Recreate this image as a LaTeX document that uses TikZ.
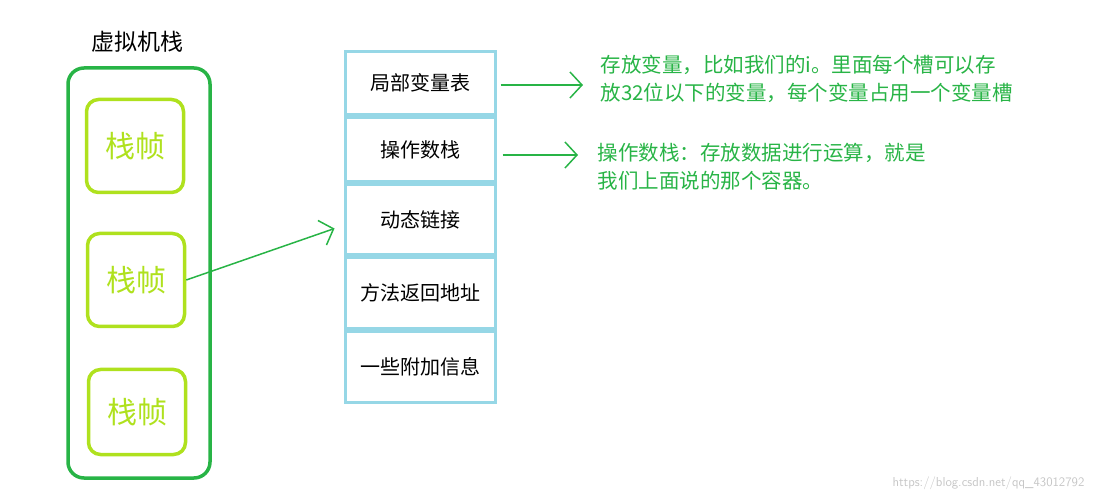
\documentclass[tikz,border=0pt]{standalone}
\usepackage{fontspec}
\newfontfamily\cjk{Noto Sans CJK SC}
\usetikzlibrary{positioning, arrows.meta}
\definecolor{deepgreen}{RGB}{40,180,70}
\definecolor{limegreen}{RGB}{175,225,30}
\definecolor{cellblue}{RGB}{150,215,230}
\begin{document}
\begin{tikzpicture}[
    x=1pt, y=-1pt,
    font=\cjk,
    % Styles
    frame/.style={ % Stack frame box
        draw=limegreen,
        line width=3.5pt,
        rounded corners=12pt,
        minimum width=97pt,
        minimum height=93pt,
        text=limegreen,
        font=\cjk\fontsize{30}{32}\selectfont
    },
    cell/.style={ % Table row
        draw=cellblue,
        line width=3pt,
        minimum width=150pt,
        font=\cjk\fontsize{20}{22}\selectfont
    },
    note/.style={
        anchor=west,
        text=deepgreen,
        align=left,
        font=\cjk\fontsize{20.5}{28}\selectfont
    },
    arrow/.style={
        draw=deepgreen,
        line width=1.5pt,
        -{Straight Barb[length=12pt, width=26pt, line width=1.5pt]}
    }
]
    \useasboundingbox (0,0) rectangle (1095,502);

    % Virtual machine stack
    \node (title) at (137,42) {\fontsize{23}{26}\selectfont 虚拟机栈};
    \draw[deepgreen, line width=3.5pt, rounded corners=16pt] (68,68) rectangle (210,478);
    \node[frame] (f1) at (135,146) {栈帧};
    \node[frame] (f2) at (136,280) {栈帧};
    \node[frame, minimum height=85pt] (f3) at (137,412) {栈帧};

    % Frame contents
    \node[cell, minimum height=63pt] (lv) at (420,83) {局部变量表};
    \node[cell, minimum height=64pt, below=0pt of lv] (os) {操作数栈};
    \node[cell, minimum height=70pt, below=0pt of os] (dl) {动态链接};
    \node[cell, minimum height=71pt, below=0pt of dl] (ra) {方法返回地址};
    \node[cell, minimum height=71pt, below=0pt of ra] (ex) {一些附加信息};

    % Notes
    \node[note] (n1) at (597,79) {存放变量，比如我们的i。里面每个槽可以存\\放32位以下的变量，每个变量占用一个变量槽};
    \node[note] (n2) at (594,167) {操作数栈：存放数据进行运算，就是\\我们上面说的那个容器。};
    \coordinate (n1tip) at (583,85);
    \coordinate (n2tip) at (578,155);

    % Arrows
    \draw[arrow] (f2.east) -- ([xshift=-9pt, yshift=-9pt]dl.west);
    \draw[arrow] ([xshift=4pt]lv.east |- n1tip) -- (n1tip);
    \draw[arrow] ([xshift=6pt]os.east |- n2tip) -- (n2tip);

    % Watermark
    \node[anchor=east, text=gray!45, font=\fontsize{13}{15}\selectfont\sffamily] (wm) at (1088,483) {https://blog.csdn.net/qq\_43012792};
\end{tikzpicture}
\end{document}
